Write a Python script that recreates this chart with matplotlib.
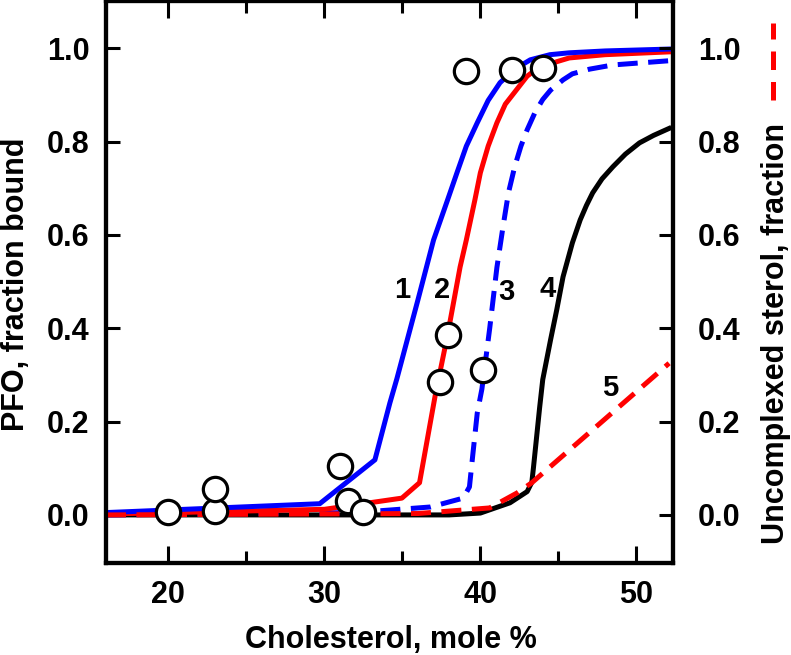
import matplotlib
matplotlib.use('Agg')
import matplotlib.pyplot as plt
from matplotlib.lines import Line2D

plt.rcParams['font.family'] = ['Liberation Sans', 'DejaVu Sans']
plt.rcParams['font.weight'] = 'bold'

# Measured PFO binding (open circles)
pts_x = [20, 23, 23, 31, 31.5, 32.5, 37.4, 37.9, 40.2, 39.1, 42.0, 44.0]
pts_y = [0.007, 0.008, 0.056, 0.105, 0.03, 0.007, 0.285, 0.386, 0.31, 0.951, 0.953, 0.958]

# Curve 1 (blue solid)
c1_x = [16, 29.7, 33.24, 34.2, 34.65, 36.0, 37.0, 37.9, 38.5, 39.1, 39.8, 40.5, 41.26,
        42.2, 43.2, 44.46, 45.7, 48.0, 52.1]
c1_y = [0.005, 0.024, 0.118, 0.24, 0.292, 0.461, 0.589, 0.675, 0.733, 0.79, 0.84, 0.888, 0.926,
        0.955, 0.975, 0.986, 0.99, 0.994, 0.998]

# Curve 2 (red solid)
c2_x = [16, 30.0, 34.97, 36.1, 37.1, 37.9, 38.7, 39.1, 39.65, 40.0, 40.5, 41.06, 41.6,
        42.3, 43.0, 43.6, 44.9, 45.7, 48.0, 52.1]
c2_y = [0.002, 0.012, 0.036, 0.069, 0.255, 0.386, 0.531, 0.589, 0.675, 0.733, 0.79, 0.84, 0.88,
        0.91, 0.94, 0.955, 0.971, 0.979, 0.986, 0.992]

# Curve 3 (blue dashed)
c3_x = [16, 32, 36.8, 38.9, 39.3, 39.5, 39.8, 40.1, 40.6, 41.06, 41.45, 41.8, 42.2, 42.6,
        43.0, 43.5, 44.0, 44.5, 45.3, 45.9, 47.0, 48.5, 52.1]
c3_y = [0.0, 0.005, 0.017, 0.036, 0.06, 0.124, 0.218, 0.27, 0.40, 0.53, 0.617, 0.69, 0.746, 0.79,
        0.825, 0.862, 0.89, 0.91, 0.932, 0.945, 0.955, 0.964, 0.973]

# Curve 4 (black)
c4_x = [16, 38, 40, 41.9, 43.0, 43.3, 43.4, 43.8, 44.0, 44.5, 44.9, 45.3, 45.9, 46.4, 46.8,
        47.2, 47.8, 48.5, 49.3, 50.2, 51.1, 52.1]
c4_y = [0.0, 0.0, 0.004, 0.026, 0.05, 0.07, 0.10, 0.23, 0.29, 0.375, 0.44, 0.51, 0.583, 0.632, 0.663,
        0.69, 0.72, 0.746, 0.773, 0.797, 0.813, 0.828]

# Curve 5 (red dashed, uncomplexed sterol)
c5_x = [16, 36, 40.6, 42.35, 43.3, 52.1]
c5_y = [0.0, 0.003, 0.015, 0.047, 0.069, 0.325]

curve_labels = ['1', '2', '3', '4', '5']
lab_x = [34.97, 37.54, 41.7, 44.33, 48.3]
lab_y = [0.482, 0.482, 0.478, 0.484, 0.272]

yticks = [0.0, 0.2, 0.4, 0.6, 0.8, 1.0]
ytick_labels = ['0.0', '0.2', '0.4', '0.6', '0.8', '1.0']
xticks = [20, 30, 40, 50]
xminor = [25, 35, 45]

fig = plt.figure(figsize=(7.91, 6.55), dpi=100)
ax = fig.add_axes([106/791, 92/655, 567/791, 562/655])

lw = 3.6
dash = (4.0, 2.1)
ax.plot(c4_x, c4_y, color='black', lw=lw, zorder=2)
ax.plot(c3_x, c3_y, color='blue', lw=lw, dashes=dash, dash_capstyle='butt', zorder=3)
ax.plot(c2_x, c2_y, color='red', lw=lw, zorder=4)
ax.plot(c1_x, c1_y, color='blue', lw=lw, zorder=5)
ax.plot(c5_x, c5_y, color='red', lw=lw, dashes=dash, dash_capstyle='butt', zorder=6)

ax.plot(pts_x, pts_y, 'o', ms=17.5, mfc='white', mec='black', mew=2.3, zorder=10,
        clip_on=False)

for t, x, y in zip(curve_labels, lab_x, lab_y):
    ax.text(x, y, t, fontsize=21, fontweight='bold', ha='center', va='center', zorder=11)

ax.set_xlim(16, 52.35)
ax.set_ylim(-0.103, 1.101)
ax.set_xticks(xticks)
ax.set_xticks(xminor, minor=True)
ax.set_yticks(yticks)
ax.set_yticklabels(ytick_labels)

for s in ax.spines.values():
    s.set_linewidth(3)

ax.tick_params(axis='x', which='major', direction='in', length=12, width=2.2,
               top=True, labelsize=22, pad=12)
ax.tick_params(axis='x', which='minor', direction='in', length=8.5, width=2.2, top=True)
ax.tick_params(axis='y', which='major', direction='in', length=10, width=2.2,
               labelsize=22, pad=12)

ax2 = ax.twinx()
ax2.set_ylim(ax.get_ylim())
ax2.set_yticks(yticks)
ax2.set_yticklabels(ytick_labels)
ax2.tick_params(axis='y', direction='in', length=10, width=2.2, labelsize=22, pad=18)
for s in ax2.spines.values():
    s.set_linewidth(3)

fig.text(391/791, 7/655, 'Cholesterol, mole %', fontsize=22, fontweight='bold',
         ha='center', va='baseline')
fig.text(16/791, 1 - 284/655, 'PFO, fraction bound', fontsize=22, fontweight='bold',
         rotation=90, ha='center', va='center')
fig.text(776/791, 1 - 333/655, 'Uncomplexed sterol, fraction', fontsize=22,
         fontweight='bold', rotation=90, ha='center', va='center')

# legend glyph for the red dashed curve next to the right label
fig.add_artist(Line2D([773/791, 773/791], [1 - 100/655, 1 - 23/655],
                      transform=fig.transFigure, color='red', lw=lw,
                      dashes=(3.7, 2.4), dash_capstyle='butt'))

fig.savefig('out.png', dpi=100)
